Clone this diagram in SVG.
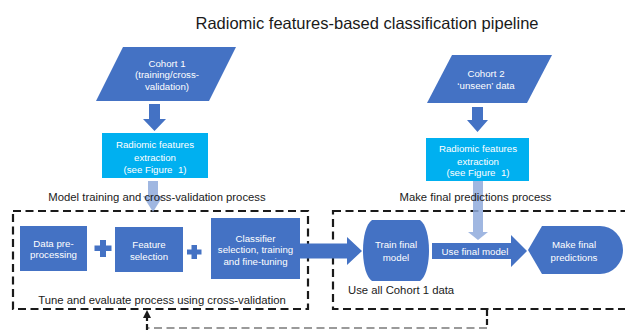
<svg xmlns="http://www.w3.org/2000/svg" width="625" height="330" viewBox="0 0 625 330">
<style>
.node{fill:#4472C4}
.cyan{fill:#00B0F0}
.nt{font-family:"Liberation Sans",Arial,sans-serif;font-size:9.7px;fill:#ffffff;text-anchor:middle}
.lbl{font-family:"Liberation Sans",Arial,sans-serif;font-size:11.3px;fill:#1a1a1a}
.dash{fill:none;stroke:#1a1a1a;stroke-width:2.2;stroke-dasharray:8 4.5}
.arr{fill:#4472C4}
.light{fill:#8FAADC;opacity:0.85}
</style>
<rect width="625" height="330" fill="#ffffff"/>
<text x="367" y="29" font-family="Liberation Sans, Arial, sans-serif" font-size="16.5" fill="#1a1a1a" text-anchor="middle">Radiomic features-based classification pipeline</text>

<g id="process-boxes">
<rect id="box-training" class="dash" x="13" y="211" width="295" height="98"/>
<rect id="box-final" class="dash" x="333" y="211" width="310" height="98"/>
</g>

<g id="connectors">
<polygon class="arr" points="149,104 160,104 160,119 166,119 154.5,131 143,119 149,119"/>
<polygon class="arr" points="472,107 483,107 483,120 488,120 477.5,132 467,120 472,120"/>
<polygon class="light" points="148,181 158,181 158,196 163,196 153,212 143,196 148,196"/>
<polygon class="light" points="473,181 483,181 483,232 488,232 478,240 468,232 473,232"/>
<polygon class="arr" points="300,243.5 347,243.5 347,237 362,251 347,265 347,258.5 300,258.5"/>
<polygon class="arr" points="432,243 511,243 511,235 527,251 511,267 511,259 432,259"/>
<line x1="487" y1="310" x2="487" y2="328" stroke="#1a1a1a" stroke-width="2.2" stroke-dasharray="6 3"/>
<line x1="487" y1="328" x2="147" y2="328" stroke="#9a9a9a" stroke-width="2" stroke-dasharray="8 4.5"/>
<line x1="147" y1="330" x2="147" y2="317" stroke="#1a1a1a" stroke-width="2.2" stroke-dasharray="6 3"/>
<polygon points="147,310 151,318 143,318" fill="#1a1a1a"/>
<path id="plus1" class="arr" d="M100,240 h6 v5.5 h5.5 v5.5 h-5.5 v6 h-6 v-6 h-5.5 v-5.5 h5.5z"/>
<path id="plus2" class="arr" d="M191.5,245 h5.5 v4.5 h4.5 v5 h-4.5 v4.5 h-5.5 v-4.5 h-4.5 v-5 h4.5z"/>
</g>

<text class="lbl" x="157" y="201" text-anchor="middle">Model training and cross-validation process</text>
<text class="lbl" x="475.5" y="201" text-anchor="middle">Make final predictions process</text>
<text class="lbl" x="162" y="304" text-anchor="middle">Tune and evaluate process using cross-validation</text>
<text class="lbl" x="348" y="294" font-size="9.7">Use all Cohort 1 data</text>

<g id="cohort1">
<polygon class="node" points="123,47 236,47 209,101 96,101"/>
<text class="nt" x="167" y="66.5">Cohort 1</text>
<text class="nt" x="167" y="78">(training/cross-</text>
<text class="nt" x="167" y="89.5">validation)</text>
</g>

<g id="cohort2">
<polygon class="node" points="452,55 552,55 527,103 427,103"/>
<text class="nt" x="486" y="76.5">Cohort 2</text>
<text class="nt" x="486" y="88.5">‘unseen’ data</text>
</g>

<g id="radiomic1">
<rect class="cyan" x="102" y="133" width="106" height="45"/>
<text class="nt" x="155" y="147.5">Radiomic features</text>
<text class="nt" x="155" y="160.5">extraction</text>
<text class="nt" x="155" y="172.5">(see Figure&#160; 1)</text>
</g>

<g id="radiomic2">
<rect class="cyan" x="426" y="138" width="103" height="43"/>
<text class="nt" x="478" y="151.5">Radiomic features</text>
<text class="nt" x="478" y="164.5">extraction</text>
<text class="nt" x="478" y="175.5">(see Figure&#160; 1)</text>
</g>

<g id="preprocessing">
<rect class="node" x="20" y="226" width="67" height="45"/>
<text class="nt" x="53.5" y="246.5">Data pre-</text>
<text class="nt" x="53.5" y="257.5">processing</text>
</g>

<g id="feature-selection">
<rect class="node" x="115" y="227" width="68" height="45"/>
<text class="nt" x="149" y="247.5">Feature</text>
<text class="nt" x="149" y="259.5">selection</text>
</g>

<g id="classifier">
<rect class="node" x="211" y="218" width="89" height="61"/>
<text class="nt" x="255.5" y="241.5" font-size="10.2">Classifier</text>
<text class="nt" x="255.5" y="253" font-size="10.2">selection, training</text>
<text class="nt" x="255.5" y="264.5" font-size="10.2">and fine-tuning</text>
</g>

<g id="train-final">
<path class="node" d="M372,220 H420 C432,228 432,273 420,281 H372 C360,273 360,228 372,220 Z"/>
<text class="nt" x="396" y="247.5">Train final</text>
<text class="nt" x="396" y="260.5">model</text>
</g>

<text class="nt" x="475" y="254.5">Use final model</text>

<g id="make-predictions">
<path class="node" d="M528,250 L542,226 H600 A23,24 0 0 1 600,274 H542 Z"/>
<text class="nt" x="574" y="247.5">Make final</text>
<text class="nt" x="574" y="260.5">predictions</text>
</g>
</svg>
